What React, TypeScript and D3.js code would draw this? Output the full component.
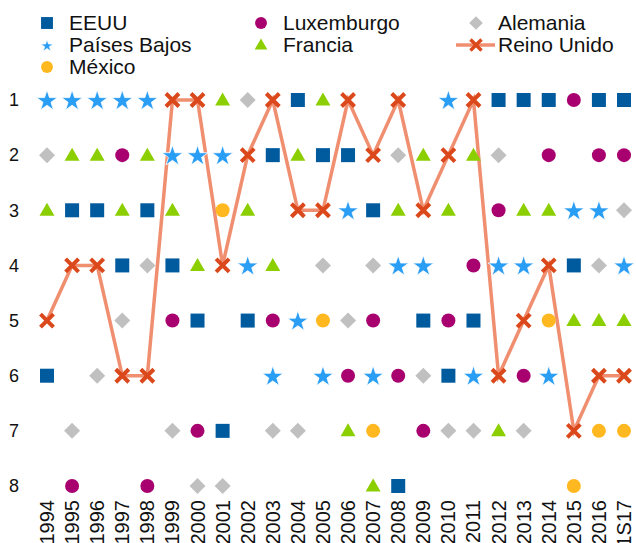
import React from "react";
import * as d3 from "d3";

const years = ["1994","1995","1996","1997","1998","1999","2000","2001","2002","2003","2004","2005","2006","2007","2008","2009","2010","2011","2012","2013","2014","2015","2016","1S17"];
const rankTicks = [1, 2, 3, 4, 5, 6, 7, 8];

type V = number | null;
const eeuu: V[] = [6,3,3,4,3,4,5,7,5,2,1,2,2,3,8,5,6,5,1,1,1,4,1,1];
const luxemburgo: V[] = [null,8,null,2,8,5,7,null,null,5,null,null,6,5,6,7,5,4,3,6,2,1,2,2];
const alemania: V[] = [2,7,6,5,4,7,8,8,1,7,7,4,5,4,2,6,7,7,2,7,null,null,4,3];
const paisesBajos: V[] = [1,1,1,1,1,2,2,2,4,6,5,6,3,6,4,4,1,6,4,4,6,3,3,4];
const francia: V[] = [3,2,2,3,2,3,4,1,3,4,2,1,7,8,3,2,3,2,7,3,3,5,5,5];
const reinoUnido: V[] = [5,4,4,6,6,1,1,4,2,1,3,3,1,2,1,3,2,1,6,5,4,7,6,6];
const mexico: V[] = [null,null,null,null,null,null,null,3,null,null,null,5,null,7,null,null,null,null,null,null,5,8,7,7];

const C = {
  eeuu: "#005a9e",
  lux: "#a8006f",
  ale: "#c0c0c0",
  pb: "#2a9df4",
  fra: "#8ccf00",
  mex: "#ffb81f",
  ruX: "#db481b",
  ruLine: "#f08e70",
};

type Kind = "square" | "circle" | "diamond" | "star" | "triangle" | "x";

function Marker({ kind, x, y, color, s = 1 }: { kind: Kind; x: number; y: number; color: string; s?: number }) {
  const t = `translate(${x},${y})`;
  if (kind === "square") {
    const h = 7 * s;
    return <rect x={x - h} y={y - h} width={2 * h} height={2 * h} fill={color} />;
  }
  if (kind === "circle") {
    return <circle cx={x} cy={y} r={7 * s} fill={color} />;
  }
  if (kind === "diamond") {
    const h = 8 * s;
    return <path transform={t} d={`M0,${-h}L${h},0L0,${h}L${-h},0Z`} fill={color} />;
  }
  if (kind === "star") {
    const r = 11 * s;
    const d = d3.symbol(d3.symbolStar, (r * r) / 0.8908130915292852)()!;
    return <path transform={`translate(${x},${y + 1})`} d={d} fill={color} stroke="#fff" strokeWidth={0.8} />;
  }
  if (kind === "triangle") {
    const w = 7.5 * s;
    const hh = 13 * s;
    return <path transform={t} d={`M0,${-hh / 2 - 1}L${w},${hh / 2 - 1}L${-w},${hh / 2 - 1}Z`} fill={color} />;
  }
  const h = 6.5 * s;
  return (
    <path transform={t} d={`M${-h},${-h}L${h},${h}M${-h},${h}L${h},${-h}`} stroke={color} strokeWidth={4 * s} fill="none" />
  );
}

const series: { name: string; data: V[]; kind: Kind; color: string }[] = [
  { name: "EEUU", data: eeuu, kind: "square", color: C.eeuu },
  { name: "Luxemburgo", data: luxemburgo, kind: "circle", color: C.lux },
  { name: "Alemania", data: alemania, kind: "diamond", color: C.ale },
  { name: "Países Bajos", data: paisesBajos, kind: "star", color: C.pb },
  { name: "Francia", data: francia, kind: "triangle", color: C.fra },
  { name: "México", data: mexico, kind: "circle", color: C.mex },
];

export default function App() {
  const W = 636, H = 543;
  const x = d3.scalePoint<string>().domain(years).range([47, 624]);
  const y = d3.scaleLinear().domain([1, 8]).range([100, 486]);
  const font = "Liberation Sans, Arial, sans-serif";

  const line = d3
    .line<V>()
    .defined((d) => d != null)
    .x((_, i) => x(years[i])!)
    .y((d) => y(d as number));

  const legend: { name: string; kind: Kind; color: string; col: number; row: number }[] = [
    { name: "EEUU", kind: "square", color: C.eeuu, col: 0, row: 0 },
    { name: "Luxemburgo", kind: "circle", color: C.lux, col: 1, row: 0 },
    { name: "Alemania", kind: "diamond", color: C.ale, col: 2, row: 0 },
    { name: "Países Bajos", kind: "star", color: C.pb, col: 0, row: 1 },
    { name: "Francia", kind: "triangle", color: C.fra, col: 1, row: 1 },
    { name: "Reino Unido", kind: "x", color: C.ruX, col: 2, row: 1 },
    { name: "México", kind: "circle", color: C.mex, col: 0, row: 2 },
  ];
  const colX = [47, 261, 476];
  const rowY = [23, 45, 67];

  return (
    <svg width={W} height={H} style={{ position: "absolute", left: 0, top: 0, background: "#fff" }} fontFamily={font}>
      {/* legend */}
      {legend.map((l) => (
        <g key={l.name}>
          {l.kind === "x" && (
            <line x1={colX[l.col] - 20} x2={colX[l.col] + 19} y1={rowY[l.row]} y2={rowY[l.row]} stroke={C.ruLine} strokeWidth={3.5} />
          )}
          <Marker kind={l.kind} x={colX[l.col]} y={rowY[l.row]} color={l.color} s={l.kind === "star" ? 0.6 : 0.85} />
          <text x={colX[l.col] + 22} y={rowY[l.row]} dy="0.35em" fontSize={21} fill="#111">
            {l.name}
          </text>
        </g>
      ))}

      {/* y ticks */}
      {rankTicks.map((r) => (
        <text key={r} x={19} y={y(r)} dy="0.35em" textAnchor="end" fontSize={18} fill="#111">
          {r}
        </text>
      ))}

      {/* x ticks */}
      {years.map((yr) => (
        <text
          key={yr}
          transform={`translate(${x(yr)},500) rotate(-90)`}
          dy="0.35em"
          textAnchor="end"
          fontSize={20}
          fill="#111"
        >
          {yr}
        </text>
      ))}

      {/* Reino Unido line */}
      <path d={line(reinoUnido) || ""} fill="none" stroke={C.ruLine} strokeWidth={3.5} />

      {/* scatter series */}
      {series.map((s) =>
        s.data.map((v, i) =>
          v == null ? null : <Marker key={s.name + i} kind={s.kind} x={x(years[i])!} y={y(v)} color={s.color} />
        )
      )}
      {reinoUnido.map((v, i) =>
        v == null ? null : <Marker key={"ru" + i} kind="x" x={x(years[i])!} y={y(v)} color={C.ruX} />
      )}
    </svg>
  );
}
